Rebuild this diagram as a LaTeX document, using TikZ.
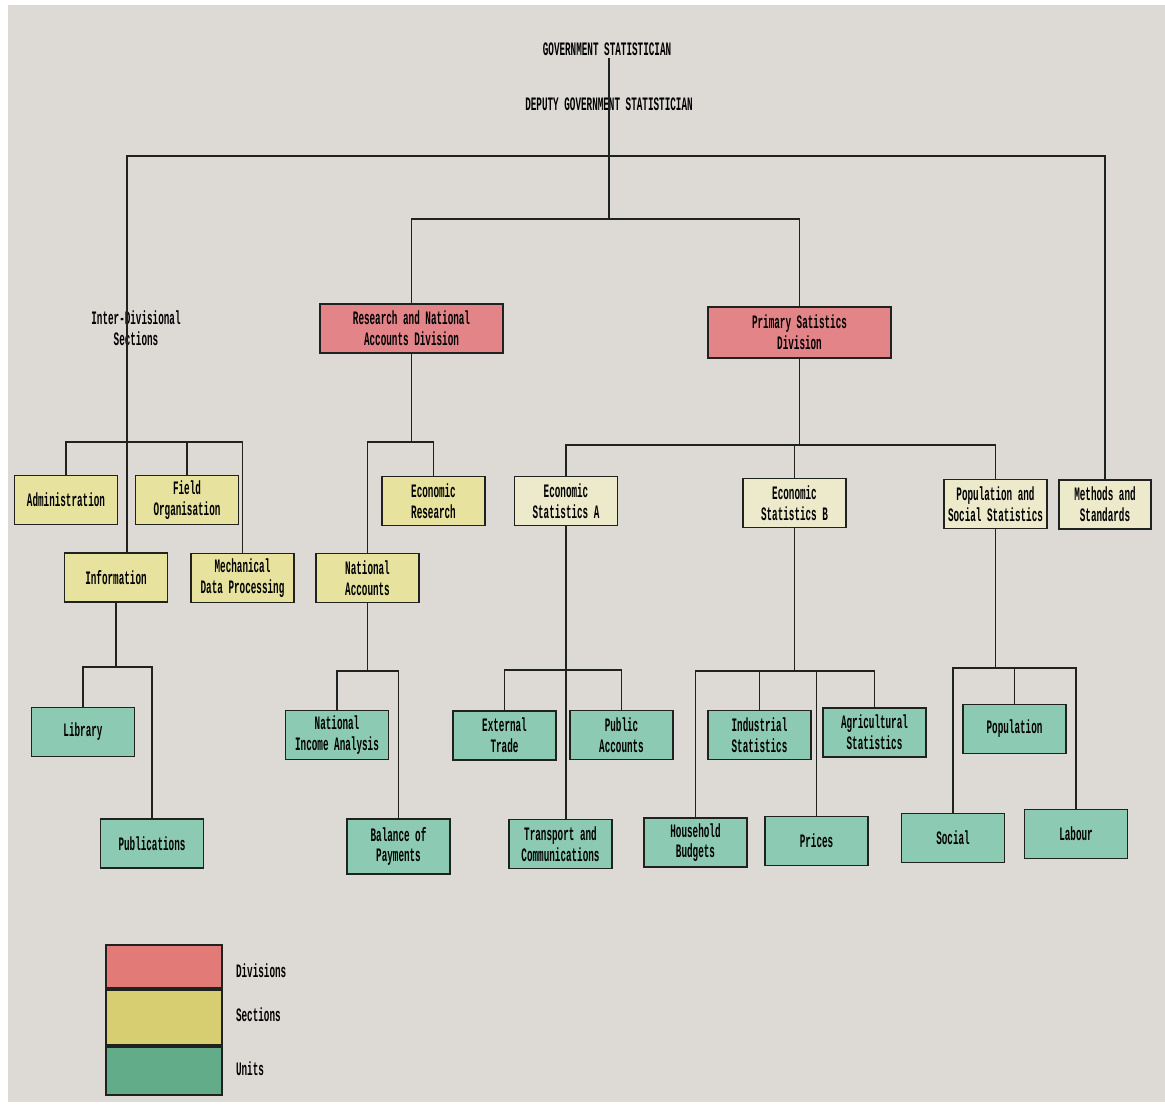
\documentclass[tikz,border=0pt]{standalone}
\usepackage{fontspec}
\usepackage{xcolor}
\usepackage{tikz}
\usetikzlibrary{calc,positioning}
\newfontfamily\typer[FakeStretch=0.49]{Liberation Mono}
\newcommand{\chartfont}{\typer\bfseries\fontsize{10.8}{11.8}\selectfont}
\definecolor{paper}{RGB}{221,218,213}
\definecolor{inkc}{RGB}{32,34,32}
\definecolor{divred}{RGB}{226,132,136}
\definecolor{secyel}{RGB}{231,227,158}
\definecolor{secpale}{RGB}{236,234,202}
\definecolor{unitgrn}{RGB}{140,202,180}
\definecolor{legred}{RGB}{226,122,120}
\definecolor{legyel}{RGB}{214,206,112}
\definecolor{leggrn}{RGB}{98,172,138}

\begin{document}
\begin{tikzpicture}[x=0.02cm,y=-0.02cm,
  orgbox/.style={draw=inkc,line width=1.1pt,align=center,minimum width=2.06cm,minimum height=0.98cm,inner sep=1pt,font=\chartfont},
  divbox/.style={orgbox,fill=divred,minimum width=3.66cm},
  secbox/.style={orgbox,fill=secyel},
  unitbox/.style={orgbox,fill=unitgrn},
  legbox/.style={draw=inkc,line width=1.1pt,minimum width=2.32cm,inner sep=0pt},
  title/.style={align=center,inner sep=1pt,font=\chartfont},
  link/.style={draw=inkc,line width=0.8pt}]
% paper
\useasboundingbox (0,0) rectangle (1165,1106);
\fill[white] (0,0) rectangle (1165,1106);
\fill[paper] (8,5) rectangle (1165,1102);

% heads
\node[title] (gs) at (607,49) {GOVERNMENT STATISTICIAN};
\node[title] (dgs) at (609,104) {DEPUTY GOVERNMENT STATISTICIAN};
\node[title] (ids) at (136,328) {Inter-Divisional\\Sections};

% divisions
\node[divbox] (rnad) at (411.5,328.5) {Research and National\\Accounts Division};
\node[divbox,minimum height=1.02cm] (psd) at (799.5,332.5) {Primary Satistics\\Division};

% sections
\node[secbox] (admin) at (66,500) {Administration};
\node[secbox] (field) at (187,500) {Field\\Organisation};
\node[secbox] (info) at (116,577.5) {Information};
\node[secbox] (mech) at (242.5,578) {Mechanical\\Data Processing};
\node[secbox] (econres) at (433.5,501) {Economic\\Research};
\node[secbox] (natacc) at (367.5,578) {National\\Accounts};
\node[secbox,fill=secpale] (esa) at (566,501) {Economic\\Statistics A};
\node[secbox,fill=secpale] (esb) at (794.5,503) {Economic\\Statistics B};
\node[secbox,fill=secpale] (pss) at (995.5,504) {Population and\\Social Statistics};
\node[secbox,fill=secpale,minimum width=1.84cm] (ms) at (1105,504.5) {Methods and\\Standards};

% units
\node[unitbox] (lib) at (83,732) {Library};
\node[unitbox] (pub) at (152,843.5) {Publications};
\node[unitbox] (nia) at (337,735) {National\\Income Analysis};
\node[unitbox,minimum height=1.1cm] (bop) at (398.5,846.5) {Balance of\\Payments};
\node[unitbox] (ext) at (504.5,735.5) {External\\Trade};
\node[unitbox] (pubacc) at (621.5,735) {Public\\Accounts};
\node[unitbox] (trc) at (560.5,844) {Transport and\\Communications};
\node[unitbox] (hb) at (695.5,842.5) {Household\\Budgets};
\node[unitbox] (ind) at (759.5,735) {Industrial\\Statistics};
\node[unitbox] (pri) at (816.5,841) {Prices};
\node[unitbox] (agr) at (874.5,732.5) {Agricultural\\Statistics};
\node[unitbox] (pop) at (1014.5,729) {Population};
\node[unitbox] (soc) at (953,838) {Social};
\node[unitbox] (lab) at (1076,834) {Labour};

% junctions
\coordinate (jtop) at (609,156);
\coordinate (jdiv) at (609,219);
\coordinate (jids) at (127,442);
\coordinate (jrn) at (rnad.south |- 0,442);
\coordinate (jps) at (psd.south |- 0,445);
\coordinate (jinfo) at (info.south |- 0,667);
\coordinate (jna) at (natacc.south |- 0,671);
\coordinate (jesa) at (esa.south |- 0,670);
\coordinate (jesb) at (esb.south |- 0,671);
\coordinate (jpss) at (pss.south |- 0,668);

% top of chart
\draw[link] (gs.south -| jdiv) -- (jdiv);
\draw[link,line width=1.5pt] (jtop) -| (jids);
\draw[link,line width=1.5pt] (jtop) -| (ms.north);
\draw[link] (jids) -- (jids |- info.north);
\draw[link] (jdiv) -| (rnad.north);
\draw[link] (jdiv) -| (psd.north);

% inter-divisional sections
\draw[link] (jids) -| (admin.north);
\draw[link] (jids) -| (field.north);
\draw[link] (jids) -| (mech.north);
\draw[link] (info.south) -- (jinfo);
\draw[link] (jinfo) -| (lib.north);
\draw[link] (jinfo) -| (pub.north);

% research and national accounts
\draw[link] (rnad.south) -- (jrn);
\draw[link] (jrn) -| (econres.north);
\draw[link] (jrn) -| (natacc.north);
\draw[link] (natacc.south) -- (jna);
\draw[link] (jna) -| (nia.north);
\draw[link] (jna) -| (bop.north);

% primary statistics
\draw[link] (psd.south) -- (jps);
\draw[link] (jps) -| (esa.north);
\draw[link] (jps) -| (esb.north);
\draw[link] (jps) -| (pss.north);
\draw[link] (esa.south) -- (esa.south |- trc.north);
\draw[link] (jesa) -| (ext.north);
\draw[link] (jesa) -| (pubacc.north);
\draw[link] (esb.south) -- (jesb);
\draw[link] (jesb) -| (hb.north);
\draw[link] (jesb) -| (ind.north);
\draw[link] (jesb) -| (pri.north);
\draw[link] (jesb) -| (agr.north);
\draw[link] (pss.south) -- (jpss);
\draw[link] (jpss) -| (soc.north);
\draw[link] (jpss) -| (pop.north);
\draw[link] (jpss) -| (lab.north);

% legend
\node[legbox,fill=legred,minimum height=0.86cm] (lgdiv) at (164,966.5) {};
\node[legbox,fill=legyel,minimum height=1.1cm,below=0pt of lgdiv] (lgsec) {};
\node[legbox,fill=leggrn,minimum height=0.96cm,below=0pt of lgsec] (lgunit) {};
\node[title,right=0.22cm of lgdiv,yshift=-0.08cm] (lgdivt) {Divisions};
\node[title,right=0.22cm of lgsec,yshift=0.05cm] (lgsect) {Sections};
\node[title,right=0.22cm of lgunit,yshift=0.04cm] (lgunitt) {Units};
\end{tikzpicture}
\end{document}
